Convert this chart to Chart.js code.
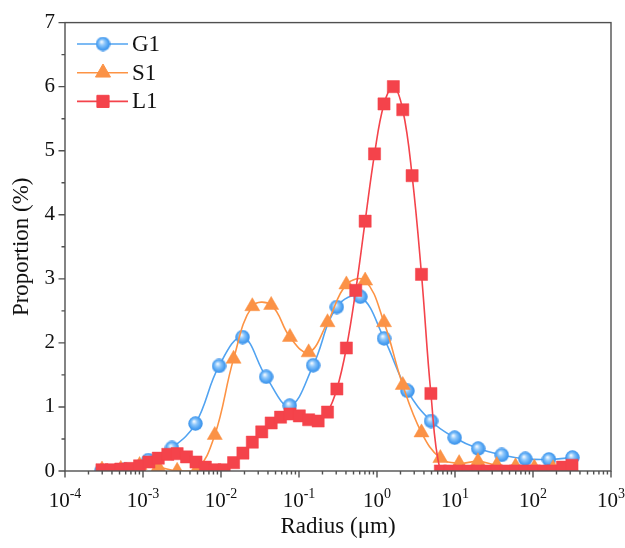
<!DOCTYPE html>
<html>
<head>
<meta charset="utf-8">
<script src="https://cdn.jsdelivr.net/npm/chart.js@4.4.0/dist/chart.umd.min.js"></script>
<style>
  html, body { margin: 0; padding: 0; background: #fff; }
</style>
</head>
<body>
<canvas id="psd" width="625" height="548"></canvas>
<script>
// size distribution values
const radiusG1 = [0.000292, 0.000585, 0.00117, 0.00235, 0.00471, 0.00944, 0.0189, 0.0379, 0.0760, 0.152,
  0.305, 0.612, 1.23, 2.46, 4.93, 9.89, 19.8, 39.7, 79.6, 160, 320];
const propG1 = [0.0, 0.02, 0.17, 0.36, 0.74, 1.64, 2.09, 1.47, 1.02, 1.65,
  2.56, 2.72, 2.07, 1.25, 0.78, 0.52, 0.35, 0.25, 0.19, 0.18, 0.21];

const radiusS1 = [0.000298, 0.000519, 0.000904, 0.00157, 0.00274, 0.00478, 0.00832, 0.0145, 0.0252, 0.0440,
  0.0766, 0.133, 0.232, 0.405, 0.705, 1.23, 2.14, 3.72, 6.49, 11.3, 19.7, 34.3, 59.7, 104, 181, 316];
const propS1 = [0.02, 0.03, 0.09, 0.06, 0.0, 0.0, 0.56, 1.75, 2.57, 2.59,
  2.09, 1.85, 2.32, 2.91, 2.97, 2.32, 1.34, 0.6, 0.2, 0.12, 0.15, 0.09, 0.07, 0.05, 0.04, 0.04];

const radiusL1 = [0.000298, 0.000393, 0.000519, 0.000685, 0.000904, 0.00119, 0.00157, 0.00208, 0.00274, 0.00362,
  0.00478, 0.00630, 0.00832, 0.0110, 0.0145, 0.0191, 0.0252, 0.0333, 0.0440, 0.0580,
  0.0766, 0.101, 0.133, 0.176, 0.232, 0.306, 0.405, 0.534, 0.705, 0.930,
  1.23, 1.62, 2.14, 2.82, 3.72, 4.91, 6.49, 8.56, 11.3, 14.9,
  19.7, 26.0, 34.3, 45.2, 59.7, 78.8, 104, 137, 181, 239, 316];
const propL1 = [0.02, 0.02, 0.03, 0.04, 0.08, 0.14, 0.2, 0.26, 0.27, 0.22,
  0.14, 0.06, 0.02, 0.02, 0.13, 0.28, 0.45, 0.61, 0.75, 0.84,
  0.89, 0.86, 0.8, 0.78, 0.92, 1.28, 1.92, 2.82, 3.9, 4.95,
  5.73, 6.0, 5.64, 4.61, 3.07, 1.21, 0, 0, 0, 0,
  0, 0, 0, 0, 0, 0, 0, 0, 0, 0.06, 0.09];

const seriesNames = ['G1', 'S1', 'L1'];
const xTickPowers = [-4, -3, -2, -1, 0, 1, 2, 3];

const SERIF = '"Liberation Serif", "Times New Roman", serif';
const AXIS_COLOR = '#505050';
const TEXT_COLOR = '#111';

// shaded ball used for G1 markers
function makeSphere(d) {
  const c = document.createElement('canvas');
  c.width = d; c.height = d;
  const g = c.getContext('2d');
  const r = d / 2;
  const grad = g.createRadialGradient(r * 0.8, r * 0.7, r * 0.05, r, r, r);
  grad.addColorStop(0, '#f2f9ff');
  grad.addColorStop(0.35, '#8cc6fb');
  grad.addColorStop(0.75, '#4ba0f2');
  grad.addColorStop(1, '#3a8fe6');
  g.fillStyle = grad;
  g.beginPath();
  g.arc(r, r, r - 0.3, 0, Math.PI * 2);
  g.fill();
  return c;
}

function toPoints(xs, ys) {
  return xs.map((v, i) => ({x: v, y: ys[i]}));
}

const axisDecor = {
  id: 'axisDecor',
  afterDatasetsDraw(chart) {
    const {ctx, chartArea: a, scales: {x, y}} = chart;
    ctx.save();
    ctx.strokeStyle = AXIS_COLOR;
    ctx.lineWidth = 1.4;
    ctx.strokeRect(a.left, a.top, a.right - a.left, a.bottom - a.top);

    ctx.beginPath();
    xTickPowers.forEach((p, i) => {
      const px = x.getPixelForValue(Math.pow(10, p));
      ctx.moveTo(px, a.bottom);
      ctx.lineTo(px, a.bottom + 6.5);
      if (i < xTickPowers.length - 1) {
        for (let m = 2; m < 10; m++) {
          const mx = x.getPixelForValue(m * Math.pow(10, p));
          ctx.moveTo(mx, a.bottom);
          ctx.lineTo(mx, a.bottom + 3.5);
        }
      }
    });
    for (let v = 0; v <= 7; v += 0.5) {
      const py = y.getPixelForValue(v);
      ctx.moveTo(a.left, py);
      ctx.lineTo(a.left - (v % 1 === 0 ? 6.5 : 3.5), py);
    }
    ctx.stroke();

    // 10^n labels
    ctx.fillStyle = TEXT_COLOR;
    ctx.textBaseline = 'alphabetic';
    ctx.textAlign = 'left';
    const baseY = a.bottom + 36;
    xTickPowers.forEach(p => {
      const px = x.getPixelForValue(Math.pow(10, p));
      ctx.font = '21px ' + SERIF;
      const wb = ctx.measureText('10').width;
      ctx.font = '14px ' + SERIF;
      const expText = String(p);
      const we = ctx.measureText(expText).width;
      const x0 = px - (wb + we) / 2;
      ctx.font = '21px ' + SERIF;
      ctx.fillText('10', x0, baseY);
      ctx.font = '14px ' + SERIF;
      ctx.fillText(expText, x0 + wb, baseY - 9);
    });
    ctx.restore();
  }
};

const innerLegend = {
  id: 'innerLegend',
  afterDraw(chart) {
    const ctx = chart.ctx;
    ctx.save();
    chart.data.datasets.forEach((ds, i) => {
      const cy = 44 + i * 28.7;
      ctx.strokeStyle = ds.borderColor;
      ctx.lineWidth = ds.borderWidth;
      ctx.beginPath();
      ctx.moveTo(77, cy);
      ctx.lineTo(128, cy);
      ctx.stroke();
      ctx.fillStyle = ds.pointBackgroundColor;
      ctx.strokeStyle = ds.pointBorderColor;
      ctx.lineWidth = 1;
      Chart.helpers.drawPoint(ctx, {
        pointStyle: ds.pointStyle,
        radius: ds.pointRadius,
        rotation: 0,
        borderWidth: 1
      }, 103, cy);
      ctx.fillStyle = TEXT_COLOR;
      ctx.font = '23px ' + SERIF;
      ctx.textBaseline = 'middle';
      ctx.textAlign = 'left';
      ctx.fillText(ds.label, 132, cy + 1);
    });
    ctx.restore();
  }
};

const sphere = makeSphere(15);

new Chart(document.getElementById('psd'), {
  type: 'line',
  data: {
    datasets: [
      {
        label: seriesNames[0],
        data: toPoints(radiusG1, propG1),
        borderColor: '#51a3f1',
        borderWidth: 1.6,
        pointStyle: sphere,
        pointRadius: 7,
        pointBackgroundColor: '#51a3f1',
        pointBorderColor: '#51a3f1',
        tension: 0.4,
        order: 3
      },
      {
        label: seriesNames[1],
        data: toPoints(radiusS1, propS1),
        borderColor: '#fd9344',
        borderWidth: 1.6,
        pointStyle: 'triangle',
        pointRadius: 8.7,
        pointBackgroundColor: '#fb9246',
        pointBorderColor: '#fb9246',
        pointBorderWidth: 0.5,
        tension: 0.4,
        order: 2
      },
      {
        label: seriesNames[2],
        data: toPoints(radiusL1, propL1),
        borderColor: '#f4434b',
        borderWidth: 1.6,
        pointStyle: 'rect',
        pointRadius: 8.6,
        pointBackgroundColor: '#f4434b',
        pointBorderColor: '#f4434b',
        pointBorderWidth: 0.5,
        tension: 0.4,
        order: 1
      }
    ]
  },
  options: {
    responsive: false,
    animation: false,
    devicePixelRatio: 1,
    layout: { padding: { top: 22, right: 14, left: 0, bottom: 0 } },
    plugins: {
      legend: { display: false },
      tooltip: { enabled: false }
    },
    scales: {
      x: {
        type: 'logarithmic',
        min: 1e-4,
        max: 1e3,
        grid: { display: false, drawTicks: false },
        border: { display: false },
        ticks: { display: false },
        title: {
          display: true,
          text: 'Radius (μm)',
          color: TEXT_COLOR,
          font: { family: SERIF, size: 23 },
          padding: { top: 0, bottom: 7 }
        },
        afterFit(scale) { scale.height = 77; }
      },
      y: {
        min: 0,
        max: 7,
        grid: { display: false, drawTicks: false },
        border: { display: false },
        ticks: {
          stepSize: 1,
          padding: 10,
          color: TEXT_COLOR,
          font: { family: SERIF, size: 21 }
        },
        title: {
          display: true,
          text: 'Proportion (%)',
          color: TEXT_COLOR,
          font: { family: SERIF, size: 23 },
          padding: { top: 8, bottom: 0 }
        },
        afterFit(scale) { scale.width = 65; }
      }
    }
  },
  plugins: [axisDecor, innerLegend]
});
</script>
</body>
</html>
